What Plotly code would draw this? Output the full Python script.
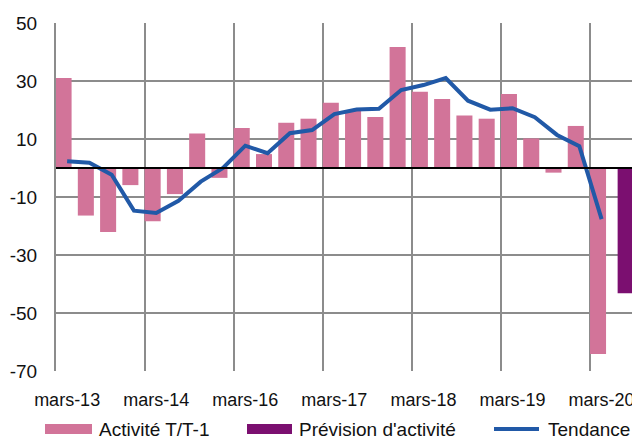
import plotly.graph_objects as go

# ---- data ----
quarters = list(range(26))
tick_positions = [0, 4, 8, 12, 16, 20, 24]
tick_labels = ["mars-13", "mars-14", "mars-16", "mars-17", "mars-18", "mars-19", "mars-20"]
y_ticks = [-70, -50, -30, -10, 10, 30, 50]
y_tick_labels = ["-70", "-50", "-30", "-10", "10", "30", "50"]

activite = [31.0, -16.4, -22.1, -5.9, -18.4, -9.0, 11.9, -3.4, 13.8, 4.8, 15.6, 17.0, 22.5,
            20.0, 17.6, 41.7, 26.3, 23.8, 18.1, 17.0, 25.5, 10.2, -1.6, 14.5, -64.1, None]
prevision = [None] * 25 + [-43.2]
tendance = [2.3, 1.8, -2.3, -14.7, -15.5, -11.3, -4.7, 0.0, 7.7, 5.1, 12.0, 13.1, 18.6,
            20.2, 20.4, 26.9, 28.6, 31.0, 23.2, 20.1, 20.6, 17.5, 11.4, 7.5, -17.6, None]

series_names = ["Activité T/T-1", "Prévision d'activité", "Tendance"]

PINK = "#d27499"
PURPLE = "#7b0f70"
BLUE = "#2159a7"
GRID = "#8c8c8c"
FONT = "Liberation Sans, Arial, sans-serif"

# page has an 8px body margin: the figure is placed at (8, 8)
PAGE_OFF = 8
PLOT_L, PLOT_R, PLOT_T, PLOT_B = 56, 635, 23, 371   # plot area in page pixels
FIG_W, FIG_H = 632, 433
PW = PLOT_R - PLOT_L
PH = PLOT_B - PLOT_T


def px_x(page_x):
    return (page_x - PLOT_L) / PW


def px_y(page_y):
    return (PLOT_B - page_y) / PH


fig = go.Figure()
fig.add_trace(go.Bar(x=quarters, y=activite, name=series_names[0], marker_color=PINK,
                     marker_line_width=0, offset=-0.52, width=0.72, showlegend=False))
fig.add_trace(go.Bar(x=quarters, y=prevision, name=series_names[1], marker_color=PURPLE,
                     marker_line_width=0, offset=-0.28, width=0.76, showlegend=False))
fig.add_trace(go.Scatter(x=quarters, y=tendance, name=series_names[2], mode="lines",
                         line=dict(color=BLUE, width=4), showlegend=False))

# zero line above bars
fig.add_shape(type="line", xref="paper", yref="y", x0=0, x1=1, y0=0, y1=0,
              line=dict(color="black", width=2), layer="above")

# manual legend (wide swatches like the original)
LEG_Y = 429
leg_c = px_y(LEG_Y)
fig.add_shape(type="rect", xref="paper", yref="paper", x0=px_x(45), x1=px_x(92),
              y0=px_y(LEG_Y + 5), y1=px_y(LEG_Y - 5), fillcolor=PINK, line_width=0)
fig.add_shape(type="rect", xref="paper", yref="paper", x0=px_x(247), x1=px_x(292),
              y0=px_y(LEG_Y + 5), y1=px_y(LEG_Y - 5), fillcolor=PURPLE, line_width=0)
fig.add_shape(type="line", xref="paper", yref="paper", x0=px_x(494), x1=px_x(539),
              y0=leg_c, y1=leg_c, line=dict(color=BLUE, width=4))
for xpix, txt in [(97, series_names[0]), (297, series_names[1]), (546, series_names[2])]:
    fig.add_annotation(xref="paper", yref="paper", x=px_x(xpix), y=leg_c, text=txt,
                       showarrow=False, xanchor="left", yanchor="middle",
                       font=dict(family=FONT, size=19, color="#111111"))

fig.update_layout(
    width=FIG_W, height=FIG_H,
    margin=dict(l=PLOT_L - PAGE_OFF, r=FIG_W - (PLOT_R - PAGE_OFF), t=PLOT_T - PAGE_OFF,
                b=FIG_H - (PLOT_B - PAGE_OFF), autoexpand=False),
    paper_bgcolor="white", plot_bgcolor="white",
    barmode="overlay",
    font=dict(family=FONT, size=19, color="#111111"),
    showlegend=False,
)
fig.update_xaxes(range=[-0.5, 25.5], tickmode="array", tickvals=tick_positions,
                 ticktext=tick_labels, showgrid=False, zeroline=False, ticks="",
                 ticklabelstandoff=16, showline=False, automargin=False,
                 minor=dict(tickmode="array", tickvals=[-0.5, 3.5, 7.5, 11.5, 15.5, 19.5, 23.5],
                            showgrid=True, gridcolor=GRID, gridwidth=2, ticks=""),
                 tickfont=dict(size=18))
fig.update_yaxes(range=[-70, 50], tickmode="array", tickvals=y_ticks, ticktext=y_tick_labels,
                 showgrid=True, gridcolor=GRID, gridwidth=2, zeroline=False, ticks="",
                 ticklabelstandoff=13, showline=True, linecolor=GRID, linewidth=2,
                 automargin=False, tickfont=dict(size=19))

fig.write_html("out.html")
